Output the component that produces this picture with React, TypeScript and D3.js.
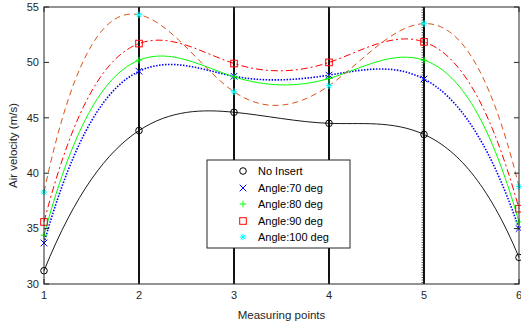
import * as d3 from 'd3';

const points = [1, 2, 3, 4, 5, 6];
const noInsert = [31.2, 43.85, 45.5, 44.5, 43.5, 32.4];
const angle70 = [33.7, 49.2, 48.75, 48.85, 48.5, 35.0];
const angle80 = [34.4, 50.2, 48.7, 48.55, 50.2, 35.6];
const angle90 = [35.6, 51.7, 49.9, 50.0, 51.85, 36.8];
const angle100 = [38.3, 54.3, 47.35, 47.9, 53.5, 38.8];
const yTicks = [30, 35, 40, 45, 50, 55];
const vLines = [2, 3, 4, 5];

type Series = {
  name: string;
  values: number[];
  line: string;
  marker: string;
  shape: 'circle' | 'x' | 'plus' | 'square' | 'star';
  dash: string | null;
  width: number;
};

const series: Series[] = [
  { name: 'No Insert', values: noInsert, line: '#000000', marker: '#000000', shape: 'circle', dash: null, width: 0.9 },
  { name: 'Angle:70 deg', values: angle70, line: '#0000ff', marker: '#0000ff', shape: 'x', dash: '1.5,1.5', width: 1.6 },
  { name: 'Angle:80 deg', values: angle80, line: '#00ff00', marker: '#00ff00', shape: 'plus', dash: null, width: 1 },
  { name: 'Angle:90 deg', values: angle90, line: '#ff0000', marker: '#ff0000', shape: 'square', dash: '7,3,2,3', width: 1 },
  { name: 'Angle:100 deg', values: angle100, line: '#d95319', marker: '#00ffff', shape: 'star', dash: '6,4', width: 1 },
];

const W = 521;
const H = 323;
const m = { left: 44, right: 2, top: 7, bottom: 39 };
const font = 'Liberation Sans, Arial, sans-serif';

// cubic spline with not-a-knot ends (like matlab spline), drawn as bezier pieces
class NotAKnot {
  _context: any;
  _x: number[] = [];
  _y: number[] = [];
  constructor(context: any) {
    this._context = context;
  }
  areaStart() {}
  areaEnd() {}
  lineStart() {
    this._x = [];
    this._y = [];
  }
  point(x: number, y: number) {
    this._x.push(+x);
    this._y.push(+y);
  }
  lineEnd() {
    const xs = this._x;
    const ys = this._y;
    const n = xs.length;
    const ctx = this._context;
    if (!n) return;
    ctx.moveTo(xs[0], ys[0]);
    if (n < 4) {
      for (let i = 1; i < n; i++) ctx.lineTo(xs[i], ys[i]);
      return;
    }
    const h: number[] = [];
    const s: number[] = [];
    for (let i = 0; i < n - 1; i++) {
      h.push(xs[i + 1] - xs[i]);
      s.push((ys[i + 1] - ys[i]) / h[i]);
    }
    const A = Array.from({ length: n }, () => new Array(n).fill(0));
    const b = new Array(n).fill(0);
    const x31 = xs[2] - xs[0];
    A[0][0] = h[1];
    A[0][1] = x31;
    b[0] = ((h[0] + 2 * x31) * h[1] * s[0] + h[0] * h[0] * s[1]) / x31;
    for (let i = 1; i < n - 1; i++) {
      A[i][i - 1] = h[i];
      A[i][i] = 2 * (h[i - 1] + h[i]);
      A[i][i + 1] = h[i - 1];
      b[i] = 3 * (h[i] * s[i - 1] + h[i - 1] * s[i]);
    }
    const xn = xs[n - 1] - xs[n - 3];
    A[n - 1][n - 2] = xn;
    A[n - 1][n - 1] = h[n - 3];
    b[n - 1] = (h[n - 2] * h[n - 2] * s[n - 3] + (2 * xn + h[n - 2]) * h[n - 3] * s[n - 2]) / xn;
    // gaussian elimination
    for (let c = 0; c < n; c++) {
      let p = c;
      for (let r = c + 1; r < n; r++) if (Math.abs(A[r][c]) > Math.abs(A[p][c])) p = r;
      [A[c], A[p]] = [A[p], A[c]];
      [b[c], b[p]] = [b[p], b[c]];
      for (let r = c + 1; r < n; r++) {
        const f = A[r][c] / A[c][c];
        for (let k = c; k < n; k++) A[r][k] -= f * A[c][k];
        b[r] -= f * b[c];
      }
    }
    const mm = new Array(n).fill(0);
    for (let r = n - 1; r >= 0; r--) {
      let acc = b[r];
      for (let k = r + 1; k < n; k++) acc -= A[r][k] * mm[k];
      mm[r] = acc / A[r][r];
    }
    for (let i = 0; i < n - 1; i++) {
      const d = h[i] / 3;
      ctx.bezierCurveTo(xs[i] + d, ys[i] + mm[i] * d, xs[i + 1] - d, ys[i + 1] - mm[i + 1] * d, xs[i + 1], ys[i + 1]);
    }
  }
}
const curveNotAKnot = (context: any) => new NotAKnot(context);

const Marker = ({ shape, x, y, color }: { shape: Series['shape']; x: number; y: number; color: string }) => {
  const s = 3.3;
  if (shape === 'circle') return <circle cx={x} cy={y} r={3.3} fill="none" stroke={color} strokeWidth={1} />;
  if (shape === 'square') return <rect x={x - s} y={y - s} width={2 * s} height={2 * s} fill="none" stroke={color} strokeWidth={1} />;
  if (shape === 'plus')
    return <path d={`M${x - s},${y}H${x + s}M${x},${y - s}V${y + s}`} stroke={color} strokeWidth={1} />;
  if (shape === 'x')
    return <path d={`M${x - s},${y - s}L${x + s},${y + s}M${x - s},${y + s}L${x + s},${y - s}`} stroke={color} strokeWidth={1} />;
  return (
    <path
      d={`M${x - s},${y}H${x + s}M${x},${y - s}V${y + s}M${x - s * 0.7},${y - s * 0.7}L${x + s * 0.7},${y + s * 0.7}M${x - s * 0.7},${y + s * 0.7}L${x + s * 0.7},${y - s * 0.7}`}
      stroke={color}
      strokeWidth={1}
    />
  );
};

export default function App() {
  const x = d3.scaleLinear().domain([1, 6]).range([m.left, W - m.right]);
  const y = d3.scaleLinear().domain([30, 55]).range([H - m.bottom, m.top]);
  const line = d3
    .line<number>()
    .x((_, i) => x(points[i]))
    .y((d) => y(d))
    .curve(curveNotAKnot as any);

  const lx = 207;
  const ly = 160;
  const rowY = [171, 188, 204, 221, 237];

  return (
    <svg width={W} height={H} style={{ position: 'absolute', left: 0, top: 0, background: '#fff' }} fontFamily={font}>
      <rect x={0} y={0} width={W} height={H} fill="#fff" />
      {series.map((s) => (
        <path
          key={s.name}
          d={line(s.values) || ''}
          fill="none"
          stroke={s.line}
          strokeWidth={s.width}
          strokeDasharray={s.dash || undefined}
        />
      ))}
      {vLines.map((v) => (
        <line key={v} x1={x(v)} x2={x(v)} y1={y(55)} y2={y(30)} stroke="#111" strokeWidth={2} />
      ))}
      <line x1={x(5) - 1.8} x2={x(5) - 1.8} y1={y(55)} y2={y(30)} stroke="#222" strokeWidth={1} strokeDasharray="1,1.5" />
      {series.map((s) =>
        s.values.map((v, i) => <Marker key={s.name + i} shape={s.shape} x={x(points[i])} y={y(v)} color={s.marker} />)
      )}
      {/* axes box */}
      <rect x={x(1)} y={y(55)} width={x(6) - x(1)} height={y(30) - y(55)} fill="none" stroke="#262626" strokeWidth={1} />
      {yTicks.map((t) => (
        <g key={t}>
          <line x1={x(1)} x2={x(1) + 5} y1={y(t)} y2={y(t)} stroke="#262626" />
          <line x1={x(6) - 5} x2={x(6)} y1={y(t)} y2={y(t)} stroke="#262626" />
          <text x={x(1) - 5} y={y(t)} dy="0.35em" textAnchor="end" fontSize={11} fill="#262626">
            {t}
          </text>
        </g>
      ))}
      {points.map((p) => (
        <g key={p}>
          <line x1={x(p)} x2={x(p)} y1={y(30)} y2={y(30) - 5} stroke="#262626" />
          <line x1={x(p)} x2={x(p)} y1={y(55)} y2={y(55) + 5} stroke="#262626" />
          <text x={x(p)} y={y(30) + 15} textAnchor="middle" fontSize={11} fill="#262626">
            {p}
          </text>
        </g>
      ))}
      <text x={(x(1) + x(6)) / 2} y={319} textAnchor="middle" fontSize={11.5} fill="#262626">
        Measuring points
      </text>
      <text
        transform={`translate(17,${(y(30) + y(55)) / 2}) rotate(-90)`}
        textAnchor="middle"
        fontSize={11.5}
        fill="#262626"
      >
        Air velocity (m/s)
      </text>
      {/* legend */}
      <rect x={lx} y={ly} width={143} height={88} fill="#fff" stroke="#262626" strokeWidth={1} />
      {series.map((s, i) => (
        <g key={s.name}>
          <Marker shape={s.shape} x={243} y={rowY[i]} color={s.marker} />
          <text x={258} y={rowY[i]} dy="0.35em" fontSize={11} fill="#000">
            {s.name}
          </text>
        </g>
      ))}
    </svg>
  );
}
